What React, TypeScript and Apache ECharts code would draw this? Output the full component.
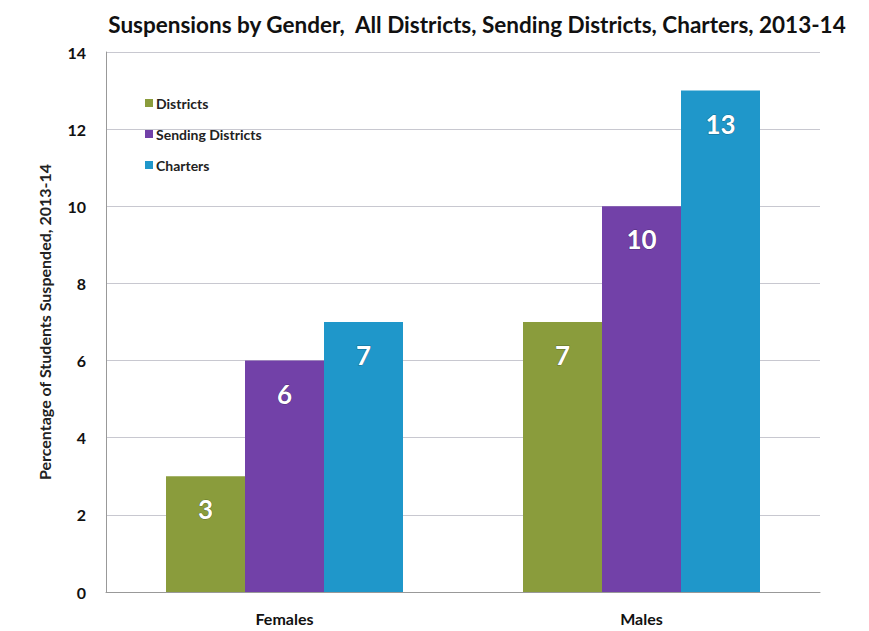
import React, { useEffect, useRef } from "react";
import * as echarts from "echarts";

const categories = ["Females", "Males"];
const seriesNames = ["Districts", "Sending Districts", "Charters"];
const districts = [3, 7];
const sendingDistricts = [6, 10];
const charters = [7, 13];
const colors = ["#8A9C3C", "#7241A8", "#1F97CA"];

export default function App() {
  const ref = useRef<HTMLDivElement>(null);
  useEffect(() => {
    const chart = echarts.init(ref.current!, null, { renderer: "svg" });
    const font = "Lato, 'Open Sans', sans-serif";
    const data = [districts, sendingDistricts, charters];
    chart.setOption({
      animation: false,
      backgroundColor: "#ffffff",
      textStyle: { fontFamily: font },
      title: {
        text: "Suspensions by Gender,  All Districts, Sending Districts, Charters, 2013-14",
        left: 472,
        textAlign: "center",
        top: 8,
        textStyle: { fontSize: 22.5, fontWeight: "bold", color: "#111", fontFamily: font },
      },
      legend: {
        orient: "vertical",
        left: 140,
        top: 91,
        itemGap: 17,
        itemWidth: 8,
        itemHeight: 8,
        icon: "rect",
        data: seriesNames,
        textStyle: { fontSize: 14, fontWeight: "bold", color: "#222", fontFamily: font, padding: [0, 0, 0, -2] },
      },
      grid: { left: 106, right: 49, top: 52, bottom: 39, containLabel: false },
      xAxis: {
        type: "category",
        data: categories,
        axisLine: { lineStyle: { color: "#999" } },
        axisTick: { show: false },
        axisLabel: { fontSize: 16, fontWeight: "bold", color: "#111", margin: 18, fontFamily: font },
      },
      yAxis: {
        type: "value",
        min: 0,
        max: 14,
        interval: 2,
        name: "Percentage of Students Suspended, 2013-14",
        nameLocation: "middle",
        nameGap: 54,
        nameTextStyle: { fontSize: 16, fontWeight: "bold", color: "#222", fontFamily: font },
        axisLine: { show: true, lineStyle: { color: "#999" } },
        axisTick: { show: false },
        splitLine: { lineStyle: { color: "#c8c8d0" } },
        axisLabel: { fontSize: 16, fontWeight: "bold", color: "#111", margin: 20, fontFamily: font },
      },
      series: seriesNames.map((name, i) => ({
        name,
        type: "bar",
        data: data[i],
        barWidth: 79,
        barGap: "0%",
        itemStyle: { color: colors[i] },
        label: {
          show: true,
          position: "insideTop",
          distance: 20,
          color: "#fff",
          fontSize: 26,
          fontWeight: "bold",
          fontFamily: font,
          textBorderColor: "rgba(0,0,0,0.35)",
          textBorderWidth: 1,
        },
      })),
    });
    return () => chart.dispose();
  }, []);
  return <div ref={ref} style={{ width: 869, height: 631, position: "absolute", left: 0, top: 0 }} />;
}
